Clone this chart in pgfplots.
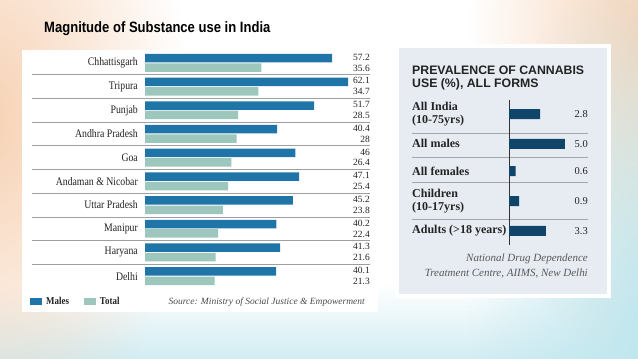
\documentclass[border=0pt]{standalone}
\usepackage{fontspec}
\setmainfont{Liberation Serif}
\newfontfamily\titlefont[FakeStretch=0.87]{Liberation Sans}
\newfontfamily\condserif[FakeStretch=0.85]{Liberation Serif}
\newfontfamily\headsans{Liberation Sans}
\usepackage{pgfplots}
\usepackage{pgfplotstable}
\pgfplotsset{compat=1.18}
\usetikzlibrary{fadings}
\definecolor{males}{RGB}{31,117,168}
\definecolor{total}{RGB}{157,199,189}
\definecolor{navy}{RGB}{16,68,104}
\definecolor{peach}{RGB}{247,210,180}
\definecolor{cyanbg}{RGB}{190,230,238}
\definecolor{panelbg}{RGB}{231,236,242}
\definecolor{txt}{RGB}{35,35,35}
\tikzfading[name=fade up, bottom color=transparent!0, top color=transparent!100]
\tikzfading[name=fade out, inner color=transparent!0, outer color=transparent!100]

\pgfplotstableread{
idx males total
0 57.2 35.6
1 62.1 34.7
2 51.7 28.5
3 40.4 28
4 46 26.4
5 47.1 25.4
6 45.2 23.8
7 40.2 22.4
8 41.3 21.6
9 40.1 21.3
}\statedata

\pgfplotstableread{
pos val
0 2.8
1.03 5.0
1.97 0.6
3.0 0.9
4.03 3.3
}\cannabis

\begin{document}
\begin{tikzpicture}
\begin{scope}[x=1pt,y=1pt]
\fill[white] (0,0) rectangle (638,359);
\begin{scope}
\clip (0,0) rectangle (638,359);
\fill[cyanbg!70, path fading=fade up] (0,0) rectangle (638,75);
\fill[peach, path fading=fade out] (-210,-100) rectangle (190,580);
\fill[peach, path fading=fade out] (470,-10) rectangle (830,670);
\fill[cyanbg, path fading=fade out] (470,-320) rectangle (830,400);
\end{scope}
% panels
\fill[white] (22,47) rectangle (378,309);
\fill[white] (395,61) rectangle (611,315);
\fill[panelbg] (399,65) rectangle (607,311);
% title
\node[anchor=base west, inner sep=0pt, font=\titlefont\bfseries\fontsize{15}{18}\selectfont] at (44,326) {Magnitude of Substance use in India};
% right panel heading
\node[anchor=base west, inner sep=0pt, text=txt, font=\headsans\bfseries\fontsize{12.3}{14}\selectfont] at (412,284) {PREVALENCE OF CANNABIS};
\node[anchor=base west, inner sep=0pt, text=txt, font=\headsans\bfseries\fontsize{12.3}{14}\selectfont] at (412,271) {USE (\%), ALL FORMS};
% sources
\node[anchor=base east, inner sep=0pt, text=black!65, font=\itshape\fontsize{11}{13}\selectfont] at (588,97) {National Drug Dependence};
\node[anchor=base east, inner sep=0pt, text=black!65, font=\itshape\fontsize{11}{13}\selectfont] at (588,82) {Treatment Centre, AIIMS, New Delhi};
\node[anchor=base east, inner sep=0pt, text=black!70, font=\itshape\fontsize{9.5}{11}\selectfont] at (365,54) {Source: Ministry of Social Justice \& Empowerment};
\end{scope}

% left chart
\begin{axis}[
  at={(32pt,308pt)}, anchor=north west,
  scale only axis, width=338pt, height=237pt,
  xmin=-34.56, xmax=68.81, ymin=-0.5, ymax=9.5, y dir=reverse,
  axis line style={draw=none},
  xtick=\empty,
  ytick={0,...,9},
  yticklabels={Chhattisgarh,Tripura,Punjab,Andhra Pradesh,Goa,Andaman \& Nicobar,Uttar Pradesh,Manipur,Haryana,Delhi},
  yticklabel style={anchor=east, xshift=106pt, inner sep=0pt, font=\condserif\fontsize{11.5}{12}\selectfont, text=txt},
  minor ytick={0.5,1.5,...,8.5},
  yminorgrids, minor grid style={gray!75, line width=0.7pt},
  major tick length=0pt, minor tick length=0pt,
  clip=false,
  legend columns=2,
  legend style={at={(axis description cs:-0.006,-0.059)}, anchor=west, draw=none, fill=none, inner sep=0pt,
    font=\condserif\bfseries\fontsize{10.5}{12}\selectfont, text=txt,
    /tikz/every odd column/.append style={column sep=2pt},
    /tikz/every even column/.append style={column sep=13pt}},
]
\addplot[xbar, bar width=8.5pt, bar shift=0pt, fill=males, draw=none,
  legend image code/.code={\fill[males] (0pt,-3.5pt) rectangle (12pt,3.5pt);}]
  table[x=males, y expr=\thisrow{idx}-0.2] {\statedata};
\addlegendentry{Males}
\addplot[xbar, bar width=8.5pt, bar shift=0pt, fill=total, draw=none,
  legend image code/.code={\fill[total] (0pt,-3.5pt) rectangle (12pt,3.5pt);}]
  table[x=total, y expr=\thisrow{idx}+0.2] {\statedata};
\addlegendentry{Total}
\addplot[draw=none, forget plot, point meta=explicit symbolic, nodes near coords={\pgfplotspointmeta},
  every node near coord/.append style={anchor=east, inner sep=0pt, text=txt, font=\fontsize{9.5}{10}\selectfont}]
  table[x expr=68.81, y expr=\thisrow{idx}-0.24, meta=males] {\statedata};
\addplot[draw=none, forget plot, point meta=explicit symbolic, nodes near coords={\pgfplotspointmeta},
  every node near coord/.append style={anchor=east, inner sep=0pt, text=txt, font=\fontsize{9.5}{10}\selectfont}]
  table[x expr=68.81, y expr=\thisrow{idx}+0.22, meta=total] {\statedata};
\end{axis}

% right chart
\begin{axis}[
  at={(412pt,259pt)}, anchor=north west,
  scale only axis, width=176pt, height=145pt,
  xmin=-8.70, xmax=7.085, ymin=-0.483, ymax=4.517, y dir=reverse,
  axis line style={draw=none},
  xtick=\empty,
  extra x ticks={0}, extra x tick labels={},
  extra x tick style={grid=major, major grid style={black!80, line width=0.9pt}},
  ytick={0,1.03,1.97,3,4.03},
  yticklabels={{All India\\(10-75yrs)},All males,All females,{Children\\(10-17yrs)},Adults (>18 years)},
  yticklabel style={anchor=west, align=left, inner sep=0pt, font=\bfseries\fontsize{12}{13.5}\selectfont, text=txt},
  minor ytick={0.655,1.483,2.345,3.62},
  yminorgrids, minor grid style={gray!70, line width=0.7pt},
  major tick length=0pt, minor tick length=0pt,
  clip=false,
]
\addplot[xbar, bar width=10pt, bar shift=0pt, fill=navy, draw=none]
  table[x=val, y=pos] {\cannabis};
\addplot[draw=none, point meta=explicit symbolic, nodes near coords={\pgfplotspointmeta},
  every node near coord/.append style={anchor=east, inner sep=0pt, text=txt, font=\fontsize{10.5}{12}\selectfont}]
  table[x expr=7.085, y=pos, meta=val] {\cannabis};
\end{axis}
\end{tikzpicture}
\end{document}
